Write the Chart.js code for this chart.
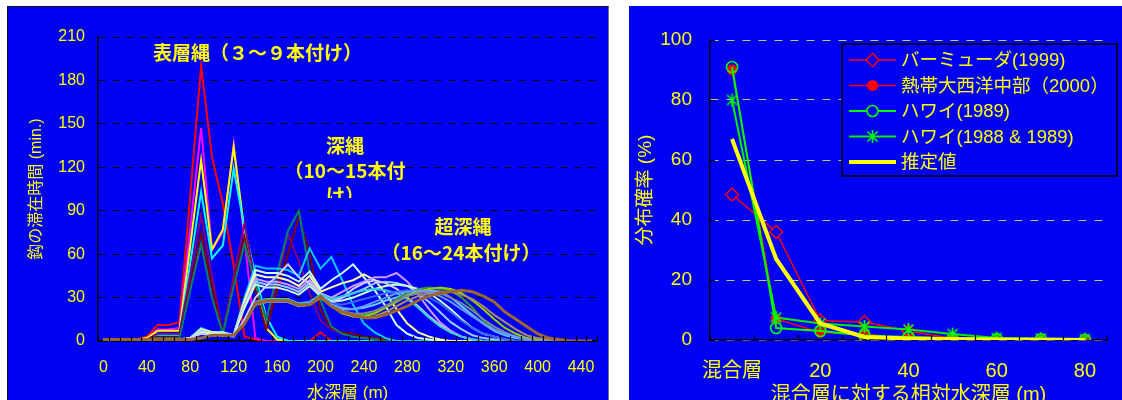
<!DOCTYPE html>
<html lang="ja"><head><meta charset="utf-8">
<script src="https://cdn.jsdelivr.net/npm/chart.js@4.4.1/dist/chart.umd.min.js"></script>
<style>
html,body{margin:0;padding:0;background:#fff;}
body{width:1122px;height:400px;overflow:hidden;position:relative;}
.panel{position:absolute;background:#0000f5;overflow:hidden;}
#pl{left:7px;top:6px;width:602px;height:420px;}
#pr{left:629px;top:6px;width:493px;height:420px;}
#pl::after{content:"";position:absolute;left:0;top:0;right:0;bottom:0;border-left:1px solid #111;border-top:1px solid #111;border-right:1px solid #777;pointer-events:none;}
.panel canvas{position:absolute;left:0;top:0;}
.note{position:absolute;color:#ffff00;font-weight:bold;font-size:19px;font-family:"Noto Sans CJK JP","Liberation Sans",sans-serif;line-height:19px;height:19px;white-space:nowrap;text-align:center;}
</style></head><body>
<div class="panel" id="pl"><canvas id="c1" width="602" height="420"></canvas></div>
<div class="panel" id="pr"><canvas id="c2" width="493" height="420"></canvas></div>
<div class="note" style="left:150px;top:42px;width:215px;">表層縄（３～９本付け）</div>
<div style="position:absolute;left:270px;top:130px;width:150px;height:68px;overflow:hidden;">
  <div class="note" style="left:0;top:4.5px;width:150px;">深縄</div>
  <div class="note" style="left:0;top:29.5px;width:150px;">（10～15本付</div>
  <div class="note" style="left:0;top:54.5px;width:150px;">け）</div>
</div>
<div class="note" style="left:380px;top:215.5px;width:166px;">超深縄</div>
<div class="note" style="left:380px;top:241.5px;width:162px;">（16～24本付け）</div>
<script>
// ---------- LEFT CHART DATA (water depth layer, residence time in min.) ----------
const depthLabels = ['0','10','20','30','40','50','60','70','80','90','100','110','120','130','140','150','160','170','180','190','200','210','220','230','240','250','260','270','280','290','300','310','320','330','340','350','360','370','380','390','400','410','420','430','440','450'];

// surface longline (3-9 hooks)
const surfRed     = [1,1,1,1,3,11,11,13,101,190, 127,95,52,3,1,0,0,0,0,0, 6,0,0,0,0,0,0,0,0,0, 0,0,0,0,0,0,0,0,0,0, 0,0,0,0,0,0];
const surfMagenta = [1,1,1,1,2,8,8,9,78,147, 63,75,136,70,2,0,0,0,0,0, 0,0,0,0,0,0,0,0,0,0, 0,0,0,0,0,0,0,0,0,0, 0,0,0,0,0,0];
const surfYellow  = [1,1,1,1,2,7,7,7,66,125, 63,77,134,75,40,9,1,0,0,0, 0,0,0,0,0,0,0,0,0,0, 0,0,0,0,0,0,0,0,0,0, 0,0,0,0,0,0];
const surfCyan    = [1,1,1,1,1,4,4,4,54,103, 57,66,119,78,45,17,3,0,0,0, 0,0,0,0,0,0,0,0,0,0, 0,0,0,0,0,0,0,0,0,0, 0,0,0,0,0,0];
const surfPurple  = [1,1,1,1,1,5,5,5,46,87, 45,5,45,81,40,15,40,74,55,33, 14,8,5,3,2,1,0,0,0,0, 0,0,0,0,0,0,0,0,0,0, 0,0,0,0,0,0];
const surfMaroon  = [1,1,1,1,1,3,3,3,38,74, 38,5,40,72,35,8,35,60,86,60, 21,9,6,5,3,2,1,0,0,0, 0,0,0,0,0,0,0,0,0,0, 0,0,0,0,0,0];
const surfTeal    = [1,1,1,1,1,2,2,2,35,67, 30,5,38,67,40,14,47,76,90,47, 28,10,5,3,2,1,0,0,0,0, 0,0,0,0,0,0,0,0,0,0, 0,0,0,0,0,0];
// deep longline (10-15 hooks)
const deep1 = [1,1,1,1,1,1,1,1,2,9, 6,6,4,30,52,50,50,49,45,64, 50,58,42,25,12,6,2,0,0,0, 0,0,0,0,0,0,0,0,0,0, 0,0,0,0,0,0];
const deep2 = [1,1,1,1,1,1,1,1,2,8, 6,6,4,28,49,47,47,45,41,48, 36,42,47,53,44,35,24,11,5,2, 1,0,0,0,0,0,0,0,0,0, 0,0,0,0,0,0];
const deep3 = [1,1,1,1,1,1,1,1,2,8, 6,5,4,27,46,44,44,42,38,45, 34,37,40,42,46,42,33,22,12,6, 3,1,0,0,0,0,0,0,0,0, 0,0,0,0,0,0];
const deep4 = [1,1,1,1,1,1,1,1,2,7, 5,5,4,25,43,41,41,39,36,42, 33,30,34,38,41,44,44,47,41,32, 22,13,7,3,1,0,0,0,0,0, 0,0,0,0,0,0];
const deep5 = [1,1,1,1,1,1,1,1,2,7, 5,5,4,24,41,39,39,37,34,40, 32,28,30,33,36,40,41,40,38,33, 27,20,13,8,4,2,1,0,0,0, 0,0,0,0,0,0];
const deep6 = [1,1,1,1,1,1,1,1,2,6, 5,5,4,23,39,37,37,35,32,38, 31,27,28,30,33,36,38,39,38,36, 33,28,22,15,9,5,3,1,0,0, 0,0,0,0,0,0];
const deep7 = [1,1,1,1,1,1,1,1,2,5, 4,4,3,15,30,38,45,53,44,40, 33,26,30,36,40,42,40,36,30,24, 17,11,6,3,1,0,0,0,0,0, 0,0,0,0,0,0];
// ultra-deep longline (16-24 hooks)
const ultra1 = [1,1,1,1,1,1,1,1,1,2, 4,4,4,12,27,29,29,29,26,27, 32,29,31,33,35,36,35,33,29,23, 16,10,6,3,1,0,0,0,0,0, 0,0,0,0,0,0];
const ultra2 = [1,1,1,1,1,1,1,1,1,2, 4,4,4,12,26,28,28,28,25,26, 31,26,25,27,29,31,33,34,35,33, 30,26,20,14,9,5,3,1,0,0, 0,0,0,0,0,0];
const ultra3 = [1,1,1,1,1,1,1,1,1,2, 4,4,4,12,26,28,28,28,25,26, 30,25,22,22,23,25,28,30,32,34, 35,34,30,24,18,12,7,4,2,1, 0,0,0,0,0,0];
const ultra4 = [1,1,1,1,1,1,1,1,1,2, 4,4,4,12,25,27,27,27,24,25, 30,24,20,18,18,20,24,29,33,36, 37,36,35,30,23,14,8,5,3,1, 0,0,0,0,0,0];
const ultra5 = [1,1,1,1,1,1,1,1,1,2, 4,4,4,12,25,27,27,27,24,25, 30,24,19,17,17,19,23,27,31,34, 36,37,36,33,28,22,15,9,5,2, 1,0,0,0,0,0];
const ultra6 = [1,1,1,1,1,1,1,1,1,2, 4,4,4,12,25,27,27,27,24,25, 30,24,21,19,19,21,24,28,31,33, 34,33,30,26,21,15,10,6,3,1, 0,0,0,0,0,0];
const ultra7 = [1,1,1,1,1,1,1,1,1,2, 4,4,4,12,26,28,28,28,25,25, 30,24,20,17,16,17,20,24,28,31, 33,34,34,32,29,24,18,13,8,4, 2,1,0,0,0,0];
const ultra9 = [1,1,1,1,1,1,1,1,1,2, 4,4,4,12,26,28,28,28,25,26, 31,25,23,22,24,27,30,33,34,35, 34,31,27,22,17,12,8,5,3,1, 0,0,0,0,0,0];
const ultra8 = [1,1,1,1,1,1,1,1,1,2, 4,4,4,12,26,28,28,28,25,25, 31,24,20,18,16,16,18,21,24,28, 31,33,34,35,34,31,27,20,15,10, 5,2,1,0,0,0];
const leftYTicks = {min:0, max:210, step:30};

// ---------- RIGHT CHART DATA (distribution probability %) ----------
const relDepthLabels = ['混合層','10','20','30','40','50','60','70','80'];
const bermuda1999   = [48.5,36,6.5,6,3,0.5,0,0,0];
const tropAtl2000   = [90,7,2.5,2,0.5,0,0,0,0];
const hawaii1989    = [91,4,3,1.5,1,0.5,0.3,0.2,0];
const hawaii8889    = [80,7.5,5.5,4.5,3.5,2,0.7,0.5,0.3];
const estimateVals  = [67,27,5.5,1,0.5,0.3,0.2,0.1,0];
const rightYTicks = {min:0, max:100, step:20};

// ---------- styling ----------
const PANEL = '#0000f5';
const YEL = '#ffff00';
const FAM = '"Liberation Sans","Noto Sans CJK JP",sans-serif';
Chart.defaults.font.family = FAM;
Chart.defaults.color = YEL;

const leftSeries = [
  [surfRed,'#ff0000',2],[surfMagenta,'#ff00ff',2],[surfYellow,'#ffff00',2],[surfCyan,'#00ffff',2],
  [surfPurple,'#800080',2],[surfMaroon,'#800000',2],[surfTeal,'#008070',2],
  [deep1,'#00ccff',2],[deep2,'#ccffff',2],[deep3,'#ffff99',2],[deep4,'#cc99ff',2],[deep5,'#99ccff',2],[deep6,'#ccffcc',2],[deep7,'#ccccff',2],
  [ultra1,'#33cccc',2],[ultra2,'#3366ff',2],[ultra3,'#66ccff',2],[ultra4,'#339933',2],[ultra5,'#99cc00',2],[ultra6,'#8080a0',2],[ultra7,'#aa8866',2],[ultra9,'#6699ff',2],[ultra8,'#996633',3]
];
// first dataset is drawn on top in Chart.js, so reverse the Excel-like order
const leftDatasets = leftSeries.map(([d,c,w])=>({data:d,borderColor:c,borderWidth:w,pointRadius:0,tension:0,fill:false})).reverse();

const innerTicks = {
  id:'innerTicks',
  afterDatasetsDraw(chart,args,o){
    const {ctx, scales:{x,y}} = chart;
    const n = chart.data.labels.length;
    const step = x.getPixelForValue(1)-x.getPixelForValue(0);
    ctx.save(); ctx.strokeStyle='#000'; ctx.lineWidth=1.2; ctx.beginPath();
    for(let i=0;i<=n;i++){
      const px=Math.round(x.getPixelForValue(0)+(i-0.5)*step)+0.5;
      ctx.moveTo(px,y.bottom); ctx.lineTo(px,y.bottom-o.len);
    }
    if(o.yTicks){
      y.ticks.forEach(t=>{const py=Math.round(y.getPixelForValue(t.value))+0.5; ctx.moveTo(x.left,py); ctx.lineTo(x.left+o.len,py);});
    }
    ctx.stroke(); ctx.restore();
  }
};

new Chart(document.getElementById('c1'),{
  type:'line',
  data:{labels:depthLabels, datasets:leftDatasets},
  options:{
    responsive:false, animation:false, events:[],
    layout:{padding:{left:0,right:10,top:31,bottom:0}},
    plugins:{legend:{display:false},tooltip:{enabled:false},innerTicks:{len:5,yTicks:false}},
    scales:{
      x:{type:'category',offset:true,
         grid:{display:false,drawTicks:false},
         border:{display:true,color:'#000',width:1.5},
         ticks:{autoSkip:false,maxRotation:0,minRotation:0,padding:17,color:YEL,font:{size:16},
                callback:(v,i)=> i%4===0 ? depthLabels[i] : ''},
         title:{display:true,text:'水深層 (m)',color:YEL,font:{size:17},padding:{top:0,bottom:22}},
         afterFit:s=>{s.height=85;}
      },
      y:{min:leftYTicks.min,max:leftYTicks.max,
         ticks:{stepSize:leftYTicks.step,padding:13,color:YEL,font:{size:16}},
         grid:{color:'#000',lineWidth:1,drawTicks:false},
         border:{display:true,color:'#000',width:1.5,dash:[7,7]},
         title:{display:true,text:'鈎の滞在時間 (min.)',color:YEL,font:{size:16},padding:{top:20,bottom:0}},
         afterFit:s=>{s.width=91;}
      }
    }
  },
  plugins:[innerTicks]
});

// ---------- right chart ----------
function asteriskCanvas(color){
  const c=document.createElement('canvas'); c.width=15; c.height=15;
  const g=c.getContext('2d'); g.strokeStyle=color; g.lineWidth=1.6; g.beginPath();
  g.moveTo(7.5,1); g.lineTo(7.5,14); g.moveTo(2.5,2.5); g.lineTo(12.5,12.5); g.moveTo(12.5,2.5); g.lineTo(2.5,12.5);
  g.stroke(); return c;
}
const starImg = asteriskCanvas('#00ff00');

const rightSeries = [
  {label:'バーミューダ(1999)', data:bermuda1999, color:'#ff0000', width:1.5, marker:'diamond'},
  {label:'熱帯大西洋中部（2000）', data:tropAtl2000, color:'#ff0000', width:1.5, marker:'dot'},
  {label:'ハワイ(1989)', data:hawaii1989, color:'#00ff00', width:2, marker:'ring'},
  {label:'ハワイ(1988 & 1989)', data:hawaii8889, color:'#00ee00', width:2, marker:'star'},
  {label:'推定値', data:estimateVals, color:'#ffff00', width:4, marker:'none'}
];
function pointOpts(s){
  switch(s.marker){
    case 'diamond': return {pointStyle:'rectRot',pointRadius:6.5,pointBorderWidth:1.5,pointBorderColor:s.color,pointBackgroundColor:PANEL};
    case 'dot': return {pointStyle:'circle',pointRadius:5,pointBorderWidth:1,pointBorderColor:s.color,pointBackgroundColor:s.color};
    case 'ring': return {pointStyle:'circle',pointRadius:5.5,pointBorderWidth:1.6,pointBorderColor:s.color,pointBackgroundColor:'rgba(0,0,0,0)'};
    case 'star': return {pointStyle:starImg,pointRadius:7};
    default: return {pointRadius:0};
  }
}
const rightDatasets = rightSeries.map(s=>Object.assign({label:s.label,data:s.data,borderColor:s.color,borderWidth:s.width,tension:0,fill:false},pointOpts(s))).reverse();

function drawMarker(ctx,s,x,y){
  ctx.save();
  if(s.marker==='diamond'){
    ctx.beginPath(); ctx.moveTo(x,y-6.5); ctx.lineTo(x+6.5,y); ctx.lineTo(x,y+6.5); ctx.lineTo(x-6.5,y); ctx.closePath();
    ctx.fillStyle=PANEL; ctx.fill(); ctx.strokeStyle=s.color; ctx.lineWidth=1.5; ctx.stroke();
  } else if(s.marker==='dot'){
    ctx.beginPath(); ctx.arc(x,y,5.5,0,Math.PI*2); ctx.fillStyle=s.color; ctx.fill();
  } else if(s.marker==='ring'){
    ctx.beginPath(); ctx.arc(x,y,5.5,0,Math.PI*2); ctx.fillStyle=PANEL; ctx.fill(); ctx.strokeStyle=s.color; ctx.lineWidth=1.6; ctx.stroke();
  } else if(s.marker==='star'){
    ctx.drawImage(starImg,x-7.5,y-7.5);
  }
  ctx.restore();
}
const boxLegend = {
  id:'boxLegend',
  afterDraw(chart,args,o){
    const ctx=chart.ctx;
    ctx.save();
    ctx.fillStyle=PANEL; ctx.fillRect(o.x,o.y,o.w,o.h);
    ctx.strokeStyle='#000'; ctx.lineWidth=1.5; ctx.strokeRect(o.x,o.y,o.w,o.h);
    ctx.font='18.5px '+FAM; ctx.textBaseline='middle'; ctx.textAlign='left';
    rightSeries.forEach((s,k)=>{
      const cy=o.y+o.first+k*o.row;
      ctx.strokeStyle=s.color; ctx.lineWidth=s.width; ctx.beginPath();
      ctx.moveTo(o.x+o.lx0,cy); ctx.lineTo(o.x+o.lx1,cy); ctx.stroke();
      drawMarker(ctx,s,o.x+(o.lx0+o.lx1)/2,cy);
      ctx.fillStyle=YEL; ctx.fillText(s.label,o.x+o.tx,cy+1);
    });
    ctx.restore();
  }
};

new Chart(document.getElementById('c2'),{
  type:'line',
  data:{labels:relDepthLabels, datasets:rightDatasets},
  options:{
    responsive:false, animation:false, events:[],
    layout:{padding:{left:0,right:15,top:34,bottom:0}},
    plugins:{legend:{display:false},tooltip:{enabled:false},innerTicks:{len:5,yTicks:true},
      boxLegend:{x:213,y:38,w:275,h:132,first:16,row:25.5,lx0:7,lx1:54,tx:59}},
    scales:{
      x:{type:'category',offset:true,
         grid:{display:false,drawTicks:false},
         border:{display:true,color:'#000',width:1.5},
         ticks:{autoSkip:false,maxRotation:0,minRotation:0,padding:19,color:YEL,font:{size:20},
                callback:(v,i)=> i%2===0 ? relDepthLabels[i] : ''},
         title:{display:true,text:'混合層に対する相対水深層 (m)',color:YEL,font:{size:20},padding:{top:0,bottom:19}},
         afterFit:s=>{s.height=86;}
      },
      y:{min:rightYTicks.min,max:rightYTicks.max,
         ticks:{stepSize:rightYTicks.step,padding:18,color:YEL,font:{size:19}},
         grid:{color:'#c8c888',lineWidth:1,drawTicks:false},
         border:{display:true,color:'#000',width:1.5,dash:[8,8]},
         title:{display:true,text:'分布確率 (%)',color:YEL,font:{size:19},padding:{top:5,bottom:0}},
         afterFit:s=>{s.width=81;}
      }
    }
  },
  plugins:[innerTicks, boxLegend]
});
</script>
</body></html>
